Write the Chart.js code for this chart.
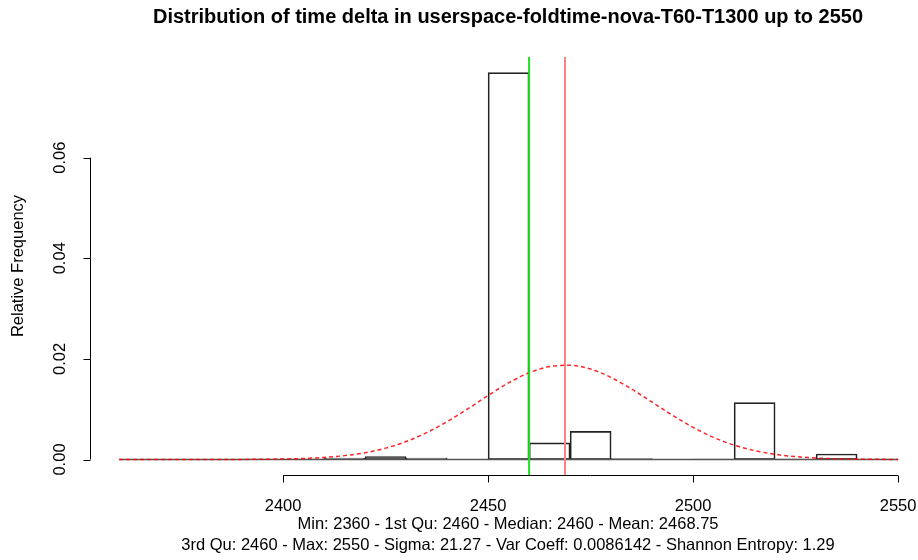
<!DOCTYPE html>
<html>
<head>
<meta charset="utf-8">
<script src="https://cdn.jsdelivr.net/npm/chart.js@4.4.1/dist/chart.umd.min.js"></script>
<style>
  html, body { margin: 0; padding: 0; background: #fff; }
  #wrap { width: 918px; height: 560px; }
</style>
</head>
<body>
<div id="wrap"><canvas id="histChart" width="918" height="560"></canvas></div>
<script>
// === DATOS ===
const binStarts = [2360, 2370, 2380, 2390, 2400, 2410, 2420, 2430, 2440, 2450,
                   2460, 2470, 2480, 2490, 2500, 2510, 2520, 2530, 2540];
const binWidth = 10;
const relFreq = [0, 0, 0, 0.0001, 0.0001, 0.0003, 0.0006, 0.0003, 0, 0.0769,
                 0.0033, 0.0056, 0.0002, 0, 0.0001, 0.0113, 0.0001, 0.0011, 0.0001];

// curva normal
const curveX = [2360, 2380, 2400, 2405, 2410, 2415, 2420, 2425, 2430, 2435, 2440, 2445,
                2450, 2455, 2460, 2465, 2470, 2475, 2480, 2485, 2490, 2495, 2500, 2505,
                2510, 2515, 2520, 2525, 2530, 2535, 2540, 2550];
const curveY = [0, 0.000003, 0.0001, 0.00021, 0.00041, 0.00077, 0.00135, 0.00226, 0.00357,
                0.00533, 0.00753, 0.01005, 0.01273, 0.01523, 0.01724, 0.01847, 0.01873,
                0.01797, 0.01631, 0.01401, 0.01139, 0.00877, 0.00638, 0.00439, 0.00286,
                0.00177, 0.00103, 0.00057, 0.0003, 0.00015, 0.00007, 0.00001];

const medianValue = 2460;
const meanValue = 2468.75;

const xTicks = [2400, 2450, 2500, 2550];
const yTicks = [0, 0.02, 0.04, 0.06];

const titleText = "Distribution of time delta in userspace-foldtime-nova-T60-T1300 up to 2550";
const yTitle = "Relative Frequency";
const statsLines = [
  "Min: 2360 - 1st Qu: 2460 - Median: 2460 - Mean: 2468.75",
  "3rd Qu: 2460 - Max: 2550 - Sigma: 21.27 - Var Coeff: 0.0086142 - Shannon Entropy: 1.29"
];

// límites del área de dibujo (como R: rango + 4%)
const xMin = 2352.9, xMax = 2554.85;
const yMin = -0.00308, yMax = 0.0800;

const FONT = '"Liberation Sans", Arial, Helvetica, sans-serif';

// === EJES ESTILO R ===
const rAxesPlugin = {
  id: "rAxes",
  afterDraw(chart) {
    const ctx = chart.ctx;
    const xs = chart.scales.x, ys = chart.scales.y;
    const area = chart.chartArea;
    ctx.save();
    ctx.strokeStyle = "#000";
    ctx.fillStyle = "#000";
    ctx.lineWidth = 1;

    // eje x
    const yAx = Math.round(area.bottom) + 0.5;
    ctx.beginPath();
    ctx.moveTo(xs.getPixelForValue(xTicks[0]), yAx);
    ctx.lineTo(xs.getPixelForValue(xTicks[xTicks.length - 1]), yAx);
    xTicks.forEach(t => {
      const px = Math.round(xs.getPixelForValue(t)) + 0.5;
      ctx.moveTo(px, yAx);
      ctx.lineTo(px, yAx + 7);
    });
    ctx.stroke();
    ctx.font = "16.5px " + FONT;
    ctx.textAlign = "center";
    ctx.textBaseline = "middle";
    xTicks.forEach(t => ctx.fillText(String(t), xs.getPixelForValue(t), 506));

    // eje y
    const xAx = Math.round(area.left) + 0.5;
    ctx.beginPath();
    ctx.moveTo(xAx, ys.getPixelForValue(yTicks[0]));
    ctx.lineTo(xAx, ys.getPixelForValue(yTicks[yTicks.length - 1]));
    yTicks.forEach(t => {
      const py = Math.round(ys.getPixelForValue(t)) + 0.5;
      ctx.moveTo(xAx, py);
      ctx.lineTo(xAx - 7, py);
    });
    ctx.stroke();
    yTicks.forEach(t => {
      ctx.save();
      ctx.translate(60, ys.getPixelForValue(t));
      ctx.rotate(-Math.PI / 2);
      ctx.fillText(t.toFixed(2), 0, 0);
      ctx.restore();
    });

    // título eje y
    ctx.save();
    ctx.translate(18, (area.top + area.bottom) / 2);
    ctx.rotate(-Math.PI / 2);
    ctx.fillText(yTitle, 0, 0);
    ctx.restore();

    // título
    const cx = 508;
    ctx.font = "bold 20px " + FONT;
    ctx.fillText(titleText, cx, 17);

    // estadísticas
    ctx.font = "16.5px " + FONT;
    ctx.fillText(statsLines[0], cx, 524);
    ctx.fillText(statsLines[1], cx, 545);
    ctx.restore();
  }
};

// === GRÁFICA ===
const ctx = document.getElementById("histChart").getContext("2d");
new Chart(ctx, {
  data: {
    datasets: [
      {
        type: "line",
        label: "Median",
        data: [{ x: medianValue, y: yMin }, { x: medianValue, y: yMax }],
        borderColor: "#1fe01f",
        borderWidth: 2,
        pointRadius: 0,
        order: 1
      },
      {
        type: "line",
        label: "Mean",
        data: [{ x: meanValue, y: yMin }, { x: meanValue, y: yMax }],
        borderColor: "#ff8080",
        borderWidth: 2,
        pointRadius: 0,
        order: 2
      },
      {
        type: "line",
        label: "Normal",
        data: curveX.map((x, i) => ({ x: x, y: curveY[i] })),
        borderColor: "rgba(255,0,0,0.85)",
        borderWidth: 1.5,
        borderDash: [4, 3],
        pointRadius: 0,
        cubicInterpolationMode: "monotone",
        order: 3
      },
      {
        type: "line",
        label: "Base",
        data: [{ x: binStarts[0], y: 0 },
               { x: binStarts[binStarts.length - 1] + binWidth, y: 0 }],
        borderColor: "#555",
        borderWidth: 1.5,
        pointRadius: 0,
        order: 4
      },
      {
        type: "bar",
        label: "Histogram",
        data: binStarts.map((b, i) => ({ x: b + binWidth / 2, y: relFreq[i] })),
        backgroundColor: "rgba(255,255,255,0)",
        borderColor: "#222",
        borderWidth: 1,
        borderSkipped: false,
        barPercentage: 1,
        categoryPercentage: 1,
        order: 5
      }
    ]
  },
  options: {
    responsive: false,
    animation: false,
    layout: { padding: { left: 90, right: 0, top: 57, bottom: 85 } },
    plugins: {
      legend: { display: false },
      tooltip: { enabled: false },
      title: { display: false }
    },
    scales: {
      x: { type: "linear", min: xMin, max: xMax, offset: false, display: false },
      y: { type: "linear", min: yMin, max: yMax, display: false }
    }
  },
  plugins: [rAxesPlugin]
});
</script>
</body>
</html>
